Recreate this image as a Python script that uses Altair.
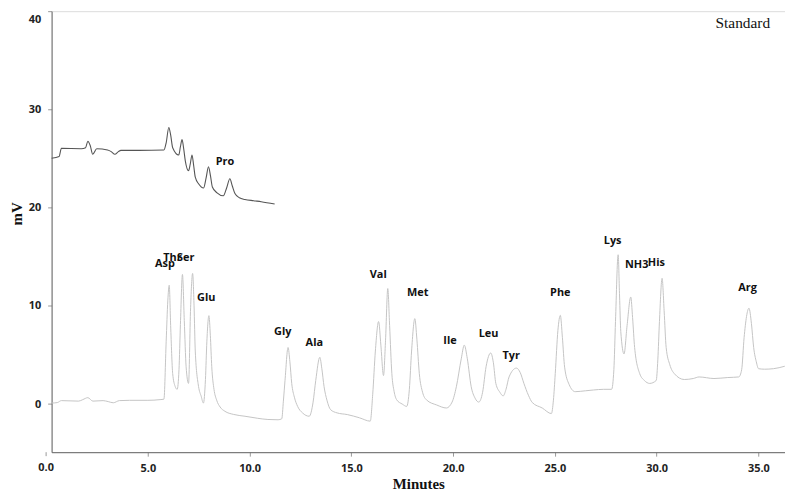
import altair as alt
import pandas as pd

# Main chromatogram trace (minutes, mV)
main_t = [0.27, 0.55, 0.75, 1.6, 1.8, 2.05, 2.3, 2.8, 3.05, 3.3, 3.6, 4.1, 5.0, 5.6, 5.79,
          5.9, 5.98, 6.05, 6.12, 6.22, 6.34, 6.44, 6.53, 6.6, 6.70, 6.79, 6.88, 7.0,
          7.1, 7.2, 7.27, 7.33, 7.49, 7.62, 7.73, 7.83, 7.9, 8.0, 8.07, 8.14, 8.25, 8.38,
          8.55, 8.79, 9.2, 9.77, 10.4, 10.9, 11.4, 11.58, 11.66, 11.74, 11.89, 11.98, 12.07,
          12.2, 12.36, 12.6, 12.93, 13.12, 13.25, 13.45, 13.55, 13.66, 13.8, 13.98, 14.3,
          14.8, 15.4, 15.93, 16.05, 16.18, 16.34, 16.45, 16.58, 16.68, 16.79, 16.88, 16.99,
          17.1, 17.23, 17.5, 17.72, 17.85, 17.96, 18.12, 18.22, 18.34, 18.5, 18.69, 19.2,
          19.67, 19.95, 20.16, 20.4, 20.55, 20.7, 20.89, 21.08, 21.26, 21.45, 21.62, 21.85,
          21.98, 22.1, 22.3, 22.46, 22.6, 22.75, 23.11, 23.3, 23.48, 23.7, 23.89, 24.38,
          24.83, 24.93, 25.02, 25.15, 25.27, 25.37, 25.48, 25.7, 26.0, 26.5, 26.89, 27.4,
          27.79, 27.9, 27.98, 28.11, 28.18, 28.24, 28.4, 28.55, 28.73, 28.82, 28.92, 29.17,
          29.4, 29.66, 29.98, 30.06, 30.14, 30.27, 30.37, 30.47, 30.65, 30.87, 31.36, 31.8,
          32.09, 32.82, 33.5, 34.04, 34.18, 34.3, 34.54, 34.66, 34.77, 34.9, 35.01, 35.3,
          35.74, 36.3]
main_v = [0.1, 0.15, 0.35, 0.3, 0.45, 0.65, 0.3, 0.35, 0.25, 0.13, 0.35, 0.38, 0.38, 0.45, 0.5,
          6.4, 10.5, 12.1, 8.0, 3.1, 1.8, 1.5, 3.5, 8.1, 13.2, 8.5, 3.8, 2.1,
          9.8, 13.3, 10.0, 5.4, 1.8, 0.8, 0.1, 2.5, 6.4, 9.0, 7.0, 3.8, 1.5, 0.4,
          -0.3, -0.74, -1.05, -1.24, -1.45, -1.57, -1.6, -1.5, 0.3, 2.4, 5.76, 4.3, 2.1,
          0.7, -0.24, -0.9, -1.24, 0.2, 2.4, 4.76, 3.6, 1.76, 0.4, -0.57, -0.9,
          -1.07, -1.4, -1.74, 1.0, 5.4, 8.4, 6.0, 2.9, 6.5, 11.76, 8.0, 3.1,
          1.3, 0.43, 0.0, -0.24, 1.5, 5.4, 8.7, 6.6, 3.1, 1.2, 0.43, -0.1,
          -0.4, 0.2, 1.76, 4.6, 6.0, 4.6, 1.76, 0.6, 0.2, 1.2, 3.8, 5.2,
          4.2, 2.1, 1.2, 0.83, 1.5, 2.76, 3.66, 3.2, 2.1, 0.9, 0.16, -0.4,
          -0.97, 0.4, 3.1, 7.5, 9.03, 6.8, 3.76, 2.0, 1.26, 1.35, 1.43, 1.5,
          1.5, 3.5, 8.4, 15.2, 11.0, 7.4, 5.1, 8.0, 10.9, 8.8, 5.76, 3.1,
          2.4, 2.1, 2.4, 4.5, 8.4, 12.8, 9.5, 5.76, 4.0, 3.1, 2.5, 2.6,
          2.76, 2.6, 2.7, 2.76, 3.5, 6.76, 9.76, 8.2, 5.76, 4.3, 3.6, 3.55,
          3.6, 3.85]

# Second channel (Pro) trace
pro_t = [0.27, 0.64, 0.75, 1.73, 1.94, 2.05, 2.17, 2.29, 2.49, 3.02, 3.2, 3.38, 3.55, 3.68,
         4.57, 5.79, 5.9, 6.03, 6.12, 6.22, 6.52, 6.6, 6.68, 6.76, 6.84, 7.0, 7.08, 7.17,
         7.25, 7.33, 7.5, 7.74, 7.86, 7.98, 8.08, 8.17, 8.4, 8.71, 8.87, 9.03, 9.15, 9.28,
         9.5, 9.77, 10.2, 10.57, 11.23]
pro_v = [25.03, 25.2, 26.03, 26.0, 26.1, 26.76, 26.3, 25.43, 26.0, 25.86, 25.7, 25.43, 25.7, 25.83,
         25.83, 25.86, 26.6, 28.16, 27.4, 26.1, 25.36, 26.2, 26.93, 26.0, 24.76, 23.76, 24.4, 25.36,
         24.3, 23.1, 22.4, 22.0, 23.0, 24.16, 23.2, 22.1, 21.5, 21.2, 22.0, 22.93, 22.2, 21.43,
         21.0, 20.83, 20.7, 20.6, 20.36]

# Peak labels
label_text = ["Asp", "Thr", "Ser", "Glu", "Gly", "Ala", "Val", "Met", "Ile", "Leu", "Tyr",
              "Phe", "Lys", "NH3", "His", "Arg", "Pro"]
label_t = [5.84, 6.21, 6.86, 7.87, 11.63, 13.18, 16.32, 18.26, 19.85, 21.74, 22.85,
           25.27, 27.84, 29.02, 29.99, 34.47, 8.79]
label_v = [14.26, 14.86, 14.86, 10.76, 7.36, 6.23, 13.1, 11.33, 6.43, 7.1, 4.93,
           11.26, 16.6, 14.2, 14.36, 11.86, 24.66]

x_ticks = [0, 5, 10, 15, 20, 25, 30, 35]
y_ticks = [0, 10, 20, 30, 40]

XDOM = [0.27, 36.31]
YDOM = [-4.9, 40]
H = 445

main_df = pd.DataFrame({"t": main_t, "v": main_v})
pro_df = pd.DataFrame({"t": pro_t, "v": pro_v})
lab_df = pd.DataFrame({"t": label_t, "v": label_v, "txt": label_text})
std_df = pd.DataFrame({"t": [35.58], "v": [38.76], "txt": ["Standard"]})
zero_df = pd.DataFrame({"t": [x_ticks[0]], "txt": ["0.0"]})

xscale = alt.Scale(domain=XDOM, nice=False, zero=False)
yscale = alt.Scale(domain=YDOM, nice=False, zero=False)

LABEL_FONT = "Open Sans"
xaxis = alt.Axis(values=x_ticks, format=".1f", title="Minutes", grid=False,
                 labelFont=LABEL_FONT, labelFontWeight="bold", labelFontSize=11,
                 labelColor="#222", labelPadding=6,
                 tickSize=4, tickColor="#999", domainColor="#666",
                 titleFont="Liberation Serif", titleFontWeight="bold", titleFontSize=15,
                 titleColor="#111", titlePadding=4)
yaxis = alt.Axis(values=y_ticks, title="mV", grid=False,
                 labelFont=LABEL_FONT, labelFontWeight="bold", labelFontSize=11,
                 labelColor="#222", labelPadding=7, labelFlush=True, labelFlushOffset=-2,
                 tickSize=4, tickColor="#999", domainColor="#666",
                 titleFont="Liberation Serif", titleFontWeight="bold", titleFontSize=15,
                 titleColor="#111", titleX=-27, titleY=204)

main_line = alt.Chart(main_df).mark_line(color="#c4c4c4", strokeWidth=1, interpolate="monotone").encode(
    x=alt.X("t:Q", scale=xscale, axis=xaxis),
    y=alt.Y("v:Q", scale=yscale, axis=yaxis),
)
pro_line = alt.Chart(pro_df).mark_line(color="#555555", strokeWidth=1.1, interpolate="monotone").encode(
    x=alt.X("t:Q", scale=xscale),
    y=alt.Y("v:Q", scale=yscale),
)
labels = alt.Chart(lab_df).mark_text(font=LABEL_FONT, fontWeight="bold", fontSize=11,
                                     color="#111", align="center", baseline="middle").encode(
    x=alt.X("t:Q", scale=xscale),
    y=alt.Y("v:Q", scale=yscale),
    text="txt:N",
)
std = alt.Chart(std_df).mark_text(font="Liberation Serif", fontSize=15.5, color="#111",
                                  align="right", baseline="middle").encode(
    x=alt.X("t:Q", scale=xscale),
    y=alt.Y("v:Q", scale=yscale),
    text="txt:N",
)
# the 0.0 tick lies just left of the plotted range; draw its label and tick here
zero_lab = alt.Chart(zero_df).mark_text(font=LABEL_FONT, fontWeight="bold", fontSize=11,
                                        color="#222", align="center", baseline="top").encode(
    x=alt.X("t:Q", scale=xscale),
    y=alt.value(H + 10),
    text="txt:N",
)
zero_tick = alt.Chart(zero_df).mark_rule(color="#999").encode(
    x=alt.X("t:Q", scale=xscale),
    y=alt.value(H),
    y2=alt.value(H + 4),
)

chart = alt.layer(main_line, pro_line, labels, std, zero_lab, zero_tick).properties(
    width=740, height=H,
    autosize=alt.AutoSizeParams(type="none"),
    padding={"left": 44, "top": 1, "right": 0, "bottom": 40},
).configure_view(stroke="#777", strokeWidth=1).configure(background="white")

chart.save("out.html", embed_options={"renderer": "svg", "actions": False})
